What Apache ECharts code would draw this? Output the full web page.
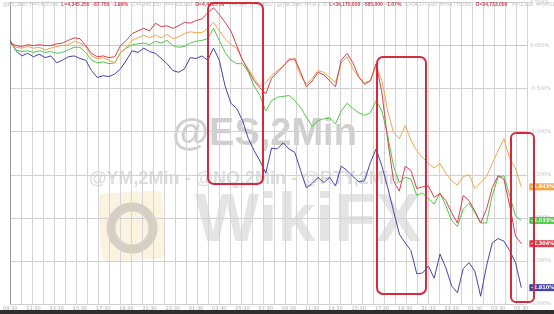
<!DOCTYPE html>
<html><head><meta charset="utf-8">
<script src="https://cdn.jsdelivr.net/npm/echarts@6/dist/echarts.min.js"></script>
<style>html,body{margin:0;padding:0;background:#fff}#c{width:554px;height:314px}</style>
</head><body><div id="c"></div>
<script>
// time categories (30-min steps), labels shown every 4th
const startMinutes = 9 * 60 + 30;
const categories = [];
for (let i = 0; i < 90; i++) {
  const m = (startMinutes + i * 30) % (24 * 60);
  categories.push(String(Math.floor(m / 60)).padStart(2, '0') + ':' + String(m % 60).padStart(2, '0'));
}

// % change from start
const seriesNames = ['@NQ', '@ES', '@YM', '@RTY'];
const nqBlue = [0.06,-0.06,-0.12,-0.09,-0.13,-0.10,-0.14,-0.12,-0.20,-0.17,-0.13,-0.12,-0.15,-0.17,-0.29,-0.37,-0.35,-0.36,-0.33,-0.27,-0.17,-0.06,-0.08,-0.03,-0.07,-0.09,-0.15,-0.21,-0.29,-0.31,-0.27,-0.14,-0.15,-0.12,-0.17,-0.03,-0.17,-0.47,-0.67,-0.73,-0.87,-1.08,-1.22,-1.34,-1.48,-1.19,-1.20,-1.13,-1.20,-1.24,-1.45,-1.65,-1.60,-1.53,-1.59,-1.53,-1.63,-1.40,-1.45,-1.52,-1.58,-1.57,-1.36,-1.20,-1.40,-1.65,-1.92,-2.19,-2.29,-2.38,-2.65,-2.64,-2.56,-2.70,-2.42,-2.58,-2.79,-2.87,-2.59,-2.52,-2.62,-2.91,-2.56,-2.29,-2.24,-2.27,-2.38,-2.52,-2.81];
const ymOrange = [0.03,-0.02,-0.03,-0.01,-0.03,-0.02,-0.05,-0.03,-0.01,0.00,0.01,0.05,0.03,-0.01,-0.12,-0.15,-0.14,-0.17,-0.20,-0.08,-0.02,0.06,0.09,0.12,0.09,0.12,0.09,0.13,0.08,0.10,0.14,0.16,0.15,0.15,0.20,0.27,0.17,0.08,0.01,-0.03,-0.17,-0.27,-0.38,-0.47,-0.43,-0.35,-0.29,-0.24,-0.15,-0.17,-0.35,-0.45,-0.38,-0.29,-0.31,-0.37,-0.43,-0.20,-0.13,-0.27,-0.37,-0.43,-0.41,-0.23,-0.41,-0.76,-1.01,-1.08,-0.93,-1.10,-1.22,-1.30,-1.37,-1.42,-1.37,-1.48,-1.57,-1.62,-1.52,-1.50,-1.66,-1.59,-1.52,-1.37,-1.22,-1.08,-1.31,-1.43,-1.64];
const esRed = [0.03,0.00,-0.01,0.01,0.00,0.01,0.00,0.00,0.02,0.03,0.06,0.09,0.08,0.00,-0.09,-0.13,-0.12,-0.14,-0.13,0.00,0.06,0.14,0.17,0.20,0.17,0.26,0.22,0.23,0.20,0.23,0.27,0.26,0.29,0.31,0.38,0.44,0.36,0.27,0.17,0.00,-0.17,-0.29,-0.41,-0.49,-0.56,-0.38,-0.31,-0.24,-0.17,-0.15,-0.31,-0.48,-0.41,-0.31,-0.34,-0.41,-0.48,-0.17,-0.09,-0.20,-0.36,-0.45,-0.41,-0.21,-0.55,-1.10,-1.57,-1.69,-1.40,-1.45,-1.66,-1.64,-1.63,-1.76,-1.72,-1.80,-1.94,-2.06,-1.74,-1.80,-1.92,-2.06,-1.90,-1.65,-1.51,-1.55,-1.86,-2.21,-2.30];
const rtyGreen = [0.03,-0.05,-0.07,-0.06,-0.08,-0.06,-0.08,-0.07,-0.09,-0.08,-0.05,-0.02,-0.02,-0.08,-0.17,-0.20,-0.19,-0.21,-0.20,-0.08,-0.03,0.01,0.02,0.03,0.01,0.05,0.03,0.06,0.00,-0.02,-0.01,0.03,0.05,0.06,0.08,0.20,0.06,-0.08,-0.17,-0.21,-0.21,-0.31,-0.47,-0.58,-0.76,-0.64,-0.60,-0.59,-0.58,-0.64,-0.72,-0.83,-0.94,-0.87,-0.85,-0.84,-0.91,-0.76,-0.67,-0.73,-0.78,-0.81,-0.78,-0.64,-0.76,-1.05,-1.40,-1.59,-1.53,-1.55,-1.74,-1.71,-1.78,-1.84,-1.71,-1.86,-2.03,-2.10,-1.90,-1.83,-1.94,-2.06,-2.06,-1.74,-1.53,-1.51,-1.74,-1.98,-2.03];
const endValues = {blue: -2.810, orange: -1.643, red: -2.304, green: -2.033};

const C = {orange:'#f2a54a', red:'#d8404e', green:'#52c84a', blue:'#4444aa'};
const chart = echarts.init(document.getElementById('c'), null, {renderer:'canvas'});

function mkSeries(name, data, color, endVal, z) {
  return {
    name, type:'line', data, showSymbol:false, z,
    lineStyle:{color, width:1}, itemStyle:{color},
    endLabel:{show:true, formatter: () => endVal.toFixed(3) + '%', color:'#fff', backgroundColor:color,
      fontSize:5, fontWeight:'bold', padding:[1,2], distance:8, fontFamily:'DejaVu Sans'},
    animation:false
  };
}

const header = '{g|@ES,2Min  H=4,433.000  }{r|L=4,345.250  -87.750  -1.99%}{g|   C=4,345.250  H=4,433.000  }{r|O=4,420.750}{g|   V=2,041  A=4,389.2   @YM,2Min  H=34,775  }{r|L=34,170.000  -585.000  -1.67%}{g|   C=34,177.000  H=34,775.000   }{r|O=34,733.000}{g|   V=72,000  A=34,510  @NQ,2Min  H=14,230  }';

chart.setOption({
  backgroundColor:'#fff',
  animation:false,
  grid:{left:0, right:20, top:2, bottom:10, containLabel:false},
  xAxis:[{
    type:'category', data:categories, boundaryGap:false, max:89,
    axisLine:{show:true, lineStyle:{color:'#c8c8c8'}}, axisTick:{show:false},
    axisLabel:{interval:3, fontSize:5, color:'#aaa', margin:2, fontFamily:'DejaVu Sans'},
    splitLine:{show:false}
  },{
    type:'value', min:0, max:47, interval:1, position:'top',
    axisLine:{show:false}, axisTick:{show:false}, axisLabel:{show:false},
    splitLine:{show:true, lineStyle:{color:'#d4d4d4', width:1}}
  }],
  yAxis:{
    type:'value', min:-3, max:0.5, interval:0.5, position:'right',
    axisLine:{show:true, lineStyle:{color:'#9a9a9a'}}, axisTick:{show:false},
    axisLabel:{fontSize:5, color:'#c0c0c0', margin:3, formatter:v => v.toFixed(3) + '%', fontFamily:'DejaVu Sans'},
    splitLine:{show:true, lineStyle:{color:'#d0d0d0'}}
  },
  series:[
    mkSeries(seriesNames[0], nqBlue, C.blue, endValues.blue, 3),
    mkSeries(seriesNames[3], rtyGreen, C.green, endValues.green, 4),
    mkSeries(seriesNames[2], ymOrange, C.orange, endValues.orange, 5),
    mkSeries(seriesNames[1], esRed, C.red, endValues.red, 6)
  ],
  graphic:[
    // watermark
    {type:'group', z:1, silent:true, children:[
      {type:'text', left:172, top:116, style:{text:'@ES,2Min', fontSize:38, fontWeight:'bold', fill:'rgba(140,140,140,0.42)', fontFamily:'Liberation Sans'}},
      {type:'text', left:89, top:170, style:{text:'@YM,2Min - @NQ,2Min - @RTY,2Min', fontSize:18, fontWeight:'bold', fill:'rgba(150,150,150,0.33)', fontFamily:'Liberation Sans'}},
      {type:'rect', shape:{x:100, y:192, width:64, height:68, r:6}, rotation:0.06, originX:132, originY:226, style:{fill:'rgba(240,205,130,0.26)'}},
      {type:'circle', shape:{cx:132, cy:228, r:21}, style:{fill:'none', stroke:'rgba(130,130,130,0.3)', lineWidth:9}},
      {type:'text', left:195, top:188, style:{text:'WikiFX', fontSize:68, fontWeight:'bold', fill:'rgba(150,150,150,0.26)', fontFamily:'Liberation Sans'}}
    ]},
    // header
    {type:'text', left:3, top:2, z:10, style:{text:header, fontSize:5, fontFamily:'DejaVu Sans',
      rich:{g:{fill:'#c0c0c0', fontSize:5}, r:{fill:'#d04050', fontSize:5, fontWeight:'bold'}}}},
    // highlight boxes
    {type:'rect', z:20, shape:{x:208, y:3, width:55, height:181, r:6}, style:{fill:'none', stroke:'#d42a3c', lineWidth:2}},
    {type:'rect', z:20, shape:{x:377, y:57, width:49, height:237, r:6}, style:{fill:'none', stroke:'#d42a3c', lineWidth:2}},
    {type:'rect', z:20, shape:{x:511, y:133, width:23, height:169, r:5}, style:{fill:'none', stroke:'#d42a3c', lineWidth:2}},
    // bottom bar
    {type:'rect', z:20, shape:{x:0, y:310, width:554, height:4}, style:{fill:'#2e2e2e'}}
  ]
});
</script></body></html>
